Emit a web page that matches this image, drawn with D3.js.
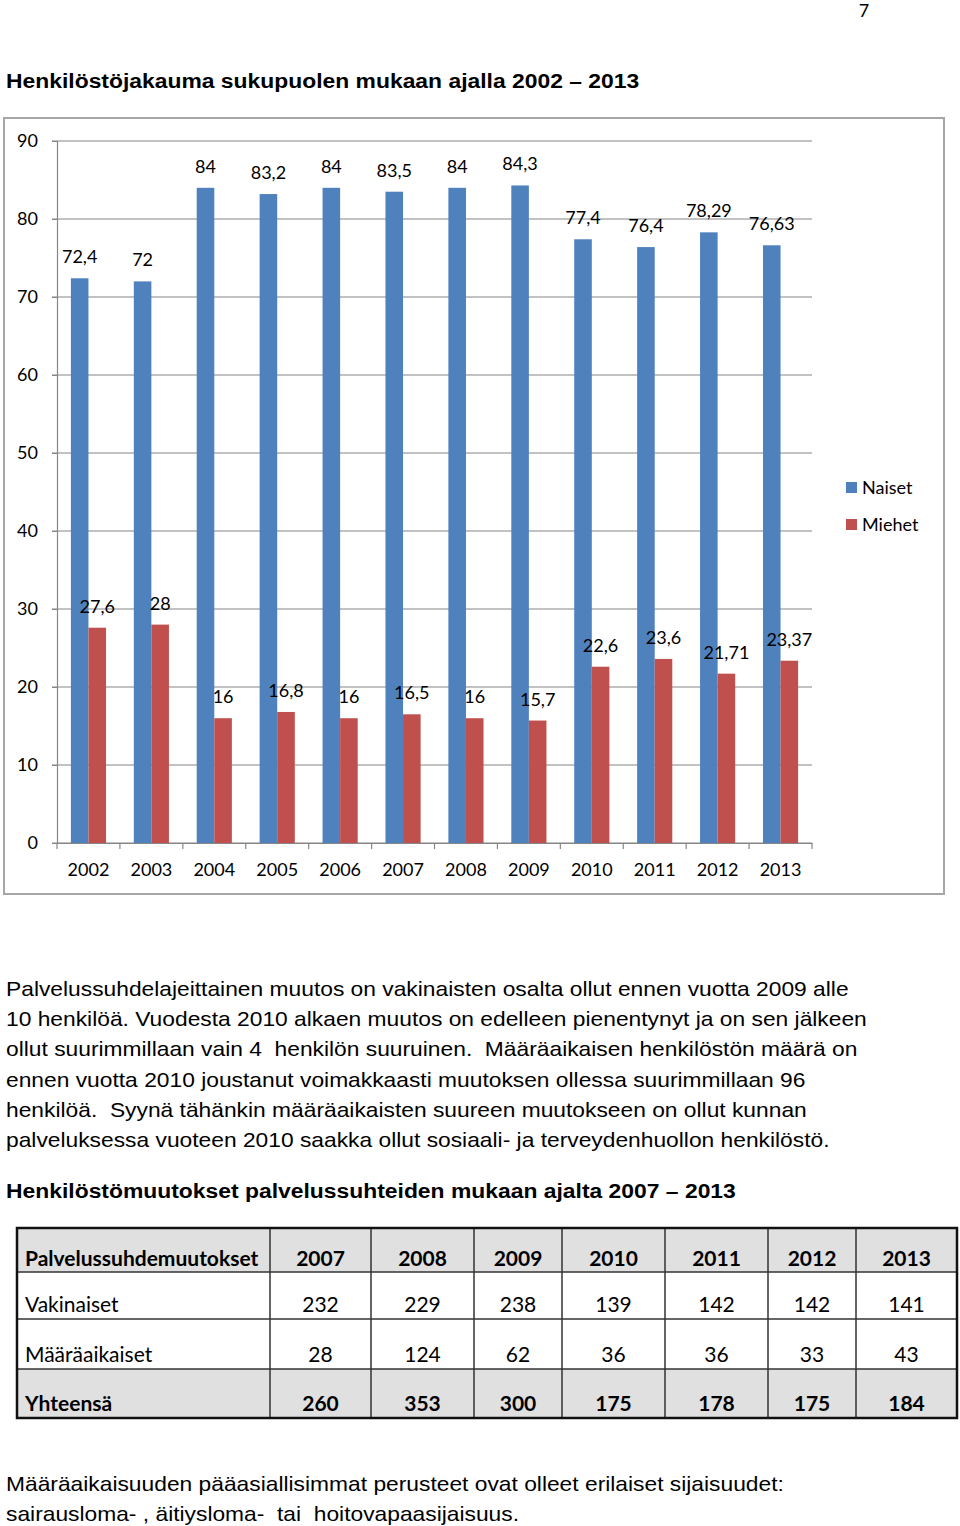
<!DOCTYPE html>
<html><head><meta charset="utf-8">
<script src="https://cdn.jsdelivr.net/npm/d3@7"></script>
<style>body{margin:0;background:#fff}svg{display:block}</style>
</head><body>
<script>
const years = ["2002","2003","2004","2005","2006","2007","2008","2009","2010","2011","2012","2013"];
const naiset = [72.4,72,84,83.2,84,83.5,84,84.3,77.4,76.4,78.29,76.63];
const miehet = [27.6,28,16,16.8,16,16.5,16,15.7,22.6,23.6,21.71,23.37];
const seriesNames = ["Naiset","Miehet"];
const yTicks = [0,10,20,30,40,50,60,70,80,90];

const tableHeader = ["Palvelussuhdemuutokset","2007","2008","2009","2010","2011","2012","2013"];
const vakinaiset = [232,229,238,139,142,142,141];
const maaraaikaiset = [28,124,62,36,36,33,43];
const yhteensa = [260,353,300,175,178,175,184];
const rowNames = ["Vakinaiset","Määräaikaiset","Yhteensä"];

const title1 = "Henkilöstöjakauma sukupuolen mukaan ajalla 2002 – 2013";
const paragraph = [
 "Palvelussuhdelajeittainen muutos on vakinaisten osalta ollut ennen vuotta 2009 alle",
 "10 henkilöä. Vuodesta 2010 alkaen muutos on edelleen pienentynyt ja on sen jälkeen",
 "ollut suurimmillaan vain 4  henkilön suuruinen.  Määräaikaisen henkilöstön määrä on",
 "ennen vuotta 2010 joustanut voimakkaasti muutoksen ollessa suurimmillaan 96",
 "henkilöä.  Syynä tähänkin määräaikaisten suureen muutokseen on ollut kunnan",
 "palveluksessa vuoteen 2010 saakka ollut sosiaali- ja terveydenhuollon henkilöstö."
];
const title2 = "Henkilöstömuutokset palvelussuhteiden mukaan ajalta 2007 – 2013";
const footer = [
 "Määräaikaisuuden pääasiallisimmat perusteet ovat olleet erilaiset sijaisuudet:",
 "sairausloma- , äitiysloma-  tai  hoitovapaasijaisuus."
];

const W = 960, H = 1526;
const svg = d3.select("body").append("svg").attr("width", W).attr("height", H);
const chartFont = "Lato, 'Open Sans', sans-serif";
const arial = "'Liberation Sans', Arial, sans-serif";
const colors = ["#4f81bd", "#c0504d"];
const fs = 18;

svg.append("text").attr("x", 864).attr("y", 17).attr("text-anchor","middle")
  .attr("font-family", chartFont).attr("font-size", 18).text("7");
svg.append("g").attr("transform","translate(6,0) scale(1.09,1)")
  .append("text").attr("x", 0).attr("y", 88).attr("font-family", arial)
  .attr("font-weight","bold").attr("font-size", 21).text(title1);

// chart frame
svg.append("rect").attr("x", 4).attr("y", 118).attr("width", 940).attr("height", 776)
  .attr("fill","#fff").attr("stroke","#a6a6a6").attr("stroke-width", 2);

const x0 = d3.scaleBand().domain(years).range([57, 812]).paddingInner(0).paddingOuter(0);
const y = d3.scaleLinear().domain([0, 90]).range([843, 141]);
const xs = d3.scaleBand().domain(seriesNames).range([0, x0.bandwidth()]).paddingInner(0).paddingOuter(0.79);

// gridlines
svg.append("g").selectAll("line").data(yTicks).join("line")
  .attr("x1", 52).attr("x2", 812).attr("y1", d => y(d)).attr("y2", d => y(d))
  .attr("stroke", "#868686").attr("stroke-width", 1.2);

// y axis
const yAxis = d3.axisLeft(y).tickValues(yTicks).tickSize(5).tickPadding(14);
const gy = svg.append("g").attr("transform", "translate(57,0)").call(yAxis);
gy.select(".domain").attr("stroke","#868686").attr("stroke-width",1.2);
gy.selectAll(".tick line").attr("stroke","#868686");
gy.selectAll("text").attr("font-family", chartFont).attr("font-size", fs).attr("fill","#000");

// x axis
const xAxis = d3.axisBottom(x0).tickSize(0).tickPadding(20);
const gx = svg.append("g").attr("transform", "translate(0,843)").call(xAxis);
gx.select(".domain").attr("stroke","#868686").attr("stroke-width",1.2);
gx.selectAll("text").attr("font-family", chartFont).attr("font-size", fs).attr("fill","#000");
gx.append("g").selectAll("line").data(years.concat(["end"])).join("line")
  .attr("x1", (d,i) => 57 + i * x0.bandwidth()).attr("x2", (d,i) => 57 + i * x0.bandwidth())
  .attr("y1", 0).attr("y2", 6).attr("stroke", "#868686").attr("stroke-width",1.2);

const data = years.map((yr, i) => ({yr, vals: [naiset[i], miehet[i]]}));
const groups = svg.append("g").selectAll("g").data(data).join("g")
  .attr("transform", d => `translate(${x0(d.yr)},0)`);
groups.selectAll("rect").data(d => d.vals.map((v, k) => ({v, k}))).join("rect")
  .attr("x", d => xs(seriesNames[d.k])).attr("width", xs.bandwidth())
  .attr("y", d => y(d.v)).attr("height", d => y(0) - y(d.v))
  .attr("fill", d => colors[d.k]);
groups.selectAll("text").data(d => d.vals.map((v, k) => ({v, k}))).join("text")
  .attr("x", d => xs(seriesNames[d.k]) + xs.bandwidth() / 2)
  .attr("y", d => y(d.v) - 15)
  .attr("text-anchor","middle").attr("font-family", chartFont).attr("font-size", fs)
  .text(d => String(d.v).replace(".", ","));

// legend
const leg = svg.append("g").selectAll("g").data(seriesNames).join("g")
  .attr("transform", (d,i) => `translate(846,${482 + i*37})`);
leg.append("rect").attr("width", 11).attr("height", 11).attr("fill", (d,i) => colors[i]);
leg.append("text").attr("x", 16).attr("y", 12).attr("font-family", chartFont)
  .attr("font-size", fs).text(d => d);

// paragraph
svg.append("g").attr("transform","translate(6,0) scale(1.14,1)")
  .selectAll("text").data(paragraph).join("text")
  .attr("x", 0).attr("y", (d,i) => 996 + i * 30.2)
  .attr("font-family", arial).attr("font-size", 20).attr("fill","#000")
  .style("white-space","pre").text(d => d);

svg.append("g").attr("transform","translate(6,0) scale(1.09,1)")
  .append("text").attr("x", 0).attr("y", 1198).attr("font-family", arial)
  .attr("font-weight","bold").attr("font-size", 21).text(title2);

// table
const colEdges = [17, 270, 371, 474, 562, 665, 768, 856, 957];
const rowEdges = [1228, 1272, 1319, 1369, 1418];
const baselines = [1266, 1312, 1362, 1411];
const tableRows = [
  {name: tableHeader[0], vals: tableHeader.slice(1), bold: true, fill: "#e0e0e0"},
  {name: rowNames[0], vals: vakinaiset, bold: false, fill: "#fff"},
  {name: rowNames[1], vals: maaraaikaiset, bold: false, fill: "#fff"},
  {name: rowNames[2], vals: yhteensa, bold: true, fill: "#e0e0e0"}
];
const tfs = 21;
const tg = svg.append("g");
tableRows.forEach((r, ri) => {
  tg.append("rect").attr("x", colEdges[0]).attr("y", rowEdges[ri])
    .attr("width", colEdges[8]-colEdges[0]).attr("height", rowEdges[ri+1]-rowEdges[ri]).attr("fill", r.fill);
  tg.append("text").attr("x", 25).attr("y", baselines[ri]).attr("font-family", chartFont)
    .attr("font-size", tfs).attr("font-weight", r.bold ? "bold" : "normal").text(r.name);
  r.vals.forEach((v, ci) => {
    tg.append("text").attr("x", (colEdges[ci+1]+colEdges[ci+2])/2).attr("y", baselines[ri])
      .attr("text-anchor","middle").attr("font-family", chartFont)
      .attr("font-size", tfs).attr("font-weight", r.bold ? "bold" : "normal").text(v);
  });
});
rowEdges.slice(1,-1).forEach(yy => tg.append("line").attr("x1",17).attr("x2",957)
  .attr("y1",yy).attr("y2",yy).attr("stroke","#333").attr("stroke-width",1.5));
colEdges.slice(1,-1).forEach(xx => tg.append("line").attr("x1",xx).attr("x2",xx)
  .attr("y1",1228).attr("y2",1418).attr("stroke","#333").attr("stroke-width",1.5));
tg.append("rect").attr("x",17).attr("y",1228).attr("width",940).attr("height",190)
  .attr("fill","none").attr("stroke","#111").attr("stroke-width",2.5);

svg.append("g").attr("transform","translate(6,0) scale(1.14,1)")
  .selectAll("text").data(footer).join("text")
  .attr("x", 0).attr("y", (d,i) => 1491 + i * 30)
  .attr("font-family", arial).attr("font-size", 20).attr("fill","#000")
  .style("white-space","pre").text(d => d);
</script>
</body></html>
